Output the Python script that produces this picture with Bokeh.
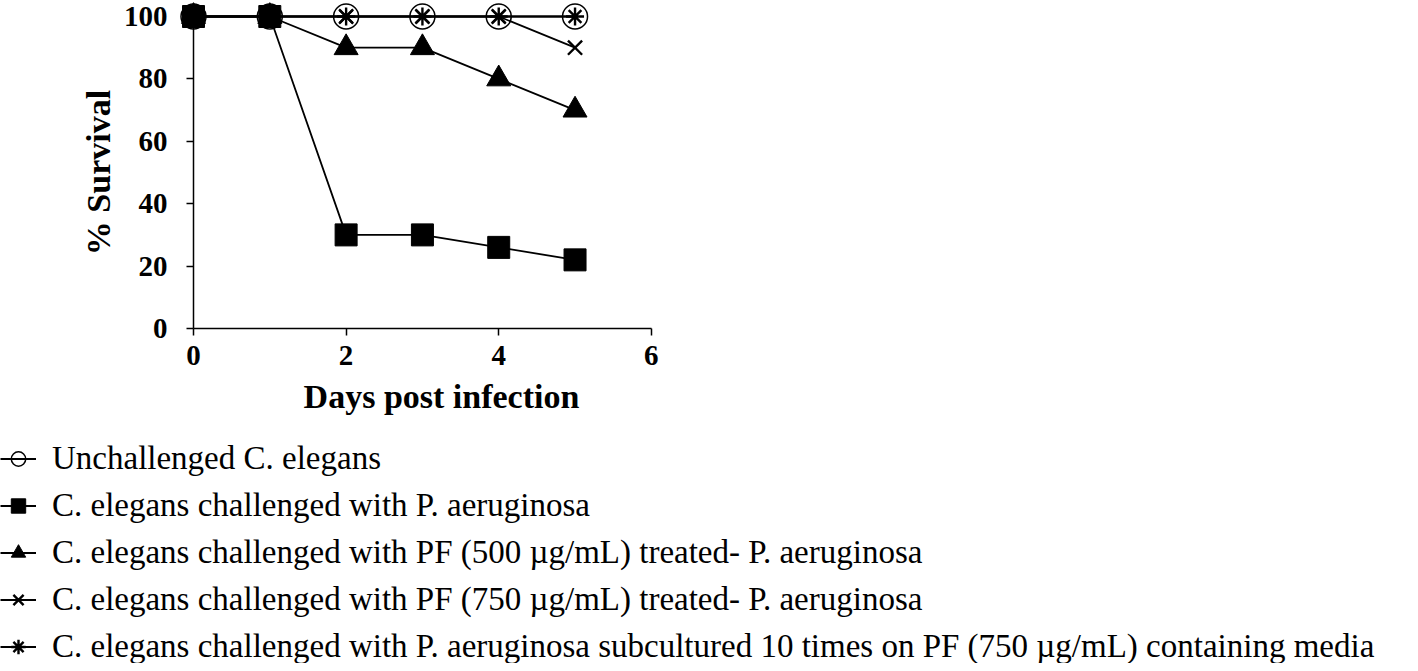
from bokeh.plotting import figure
from bokeh.models import Range1d, FixedTicker, Legend, LegendItem
from bokeh.layouts import column
from bokeh.embed import file_html
from bokeh.resources import INLINE

# ---- data ----
days = [0, 1, 2, 3, 4, 5]
unchallenged = [100, 100, 100, 100, 100, 100]
pa_challenged = [100, 100, 30, 30, 26, 22]
pf500_treated = [100, 100, 90, 90, 80, 70]
pf750_treated = [100, 100, 100, 100, 100, 90]
subcultured = [100, 100, 100, 100, 100, 100]

x_ticks = [0, 2, 4, 6]
y_ticks = [0, 20, 40, 60, 80, 100]

labels = [
    "Unchallenged C. elegans",
    "C. elegans challenged with P. aeruginosa",
    "C. elegans challenged with PF (500 µg/mL) treated- P. aeruginosa",
    "C. elegans challenged with PF (750 µg/mL) treated- P. aeruginosa",
    "C. elegans challenged with P. aeruginosa subcultured 10 times on PF (750 µg/mL) containing media",
]

series = [unchallenged, pa_challenged, pf500_treated, pf750_treated, subcultured]

SERIF = "Liberation Serif"
LW = 1.8
marker_styles = [
    dict(marker="circle", size=25, fill_color=None, line_color="black", line_width=1.5),
    dict(marker="square", size=22, fill_color="black", line_color="black"),
    dict(marker="triangle", size=24, fill_color="black", line_color="black"),
    dict(marker="x", size=20, line_color="black", line_width=2.4),
    dict(marker="asterisk", size=18, line_color="black", line_width=2.4),
]

# ---------------- main chart ----------------
p = figure(width=1410, height=438, output_backend="svg", toolbar_location=None,
           x_range=Range1d(0, 6.5), y_range=Range1d(0, 100),
           min_border_left=193, min_border_right=721, min_border_top=16,
           min_border_bottom=110)
p.frame_align = False
p.outline_line_color = None
p.xgrid.visible = False
p.ygrid.visible = False
p.background_fill_color = "white"
p.border_fill_color = "white"

for ax in (p.xaxis[0], p.yaxis[0]):
    ax.axis_line_color = "black"
    ax.axis_line_width = 1.5
    ax.major_tick_line_color = "black"
    ax.major_tick_line_width = 1.5
    ax.major_tick_in = 0
    ax.major_tick_out = 7
    ax.minor_tick_line_color = None
    ax.major_label_text_font = SERIF
    ax.major_label_text_font_style = "bold"
    ax.major_label_text_font_size = "29px"
    ax.major_label_text_color = "black"
    ax.axis_label_text_font = SERIF
    ax.axis_label_text_font_style = "bold"
    ax.axis_label_text_font_size = "34px"
    ax.axis_label_text_color = "black"

p.xaxis.ticker = FixedTicker(ticks=x_ticks)
p.yaxis.ticker = FixedTicker(ticks=y_ticks)
p.xaxis.bounds = (0, 6)
p.yaxis.bounds = (0, 100)
p.xaxis.axis_label = "Days post infection"
p.yaxis.axis_label = "% Survival"
p.xaxis.major_label_standoff = 10
p.yaxis.major_label_standoff = 19
p.xaxis.axis_label_standoff = 10
p.yaxis.axis_label_standoff = 4

for ys, ms in zip(series, marker_styles):
    p.line(days, ys, line_color="black", line_width=LW, level="overlay")
    p.scatter(days, ys, level="overlay", **ms)

# ---------------- legend strip ----------------
lf = figure(width=1410, height=225, output_backend="svg", toolbar_location=None,
            x_range=Range1d(1000, 1001), y_range=Range1d(1000, 1001),
            x_axis_location=None, y_axis_location=None,
            min_border_left=0, min_border_right=0, min_border_top=0,
            min_border_bottom=0)
lf.frame_align = False
lf.outline_line_color = None
lf.xgrid.visible = False
lf.ygrid.visible = False

items = []
for lab, ys, ms in zip(labels, series, marker_styles):
    lr = lf.line(days, ys, line_color="black", line_width=LW)
    sr = lf.scatter(days, ys, **ms)
    items.append(LegendItem(label=lab, renderers=[lr, sr]))

legend = Legend(items=items, location=(0, -2), orientation="vertical",
                label_text_font=SERIF, label_text_font_size="33px",
                label_text_color="black", glyph_width=36, glyph_height=37,
                label_height=24, label_standoff=16, spacing=10, padding=0,
                margin=0, border_line_color=None, background_fill_alpha=0)
lf.add_layout(legend, "center")

layout = column(p, lf, spacing=0)
open("out.html", "w").write(file_html(layout, INLINE))
